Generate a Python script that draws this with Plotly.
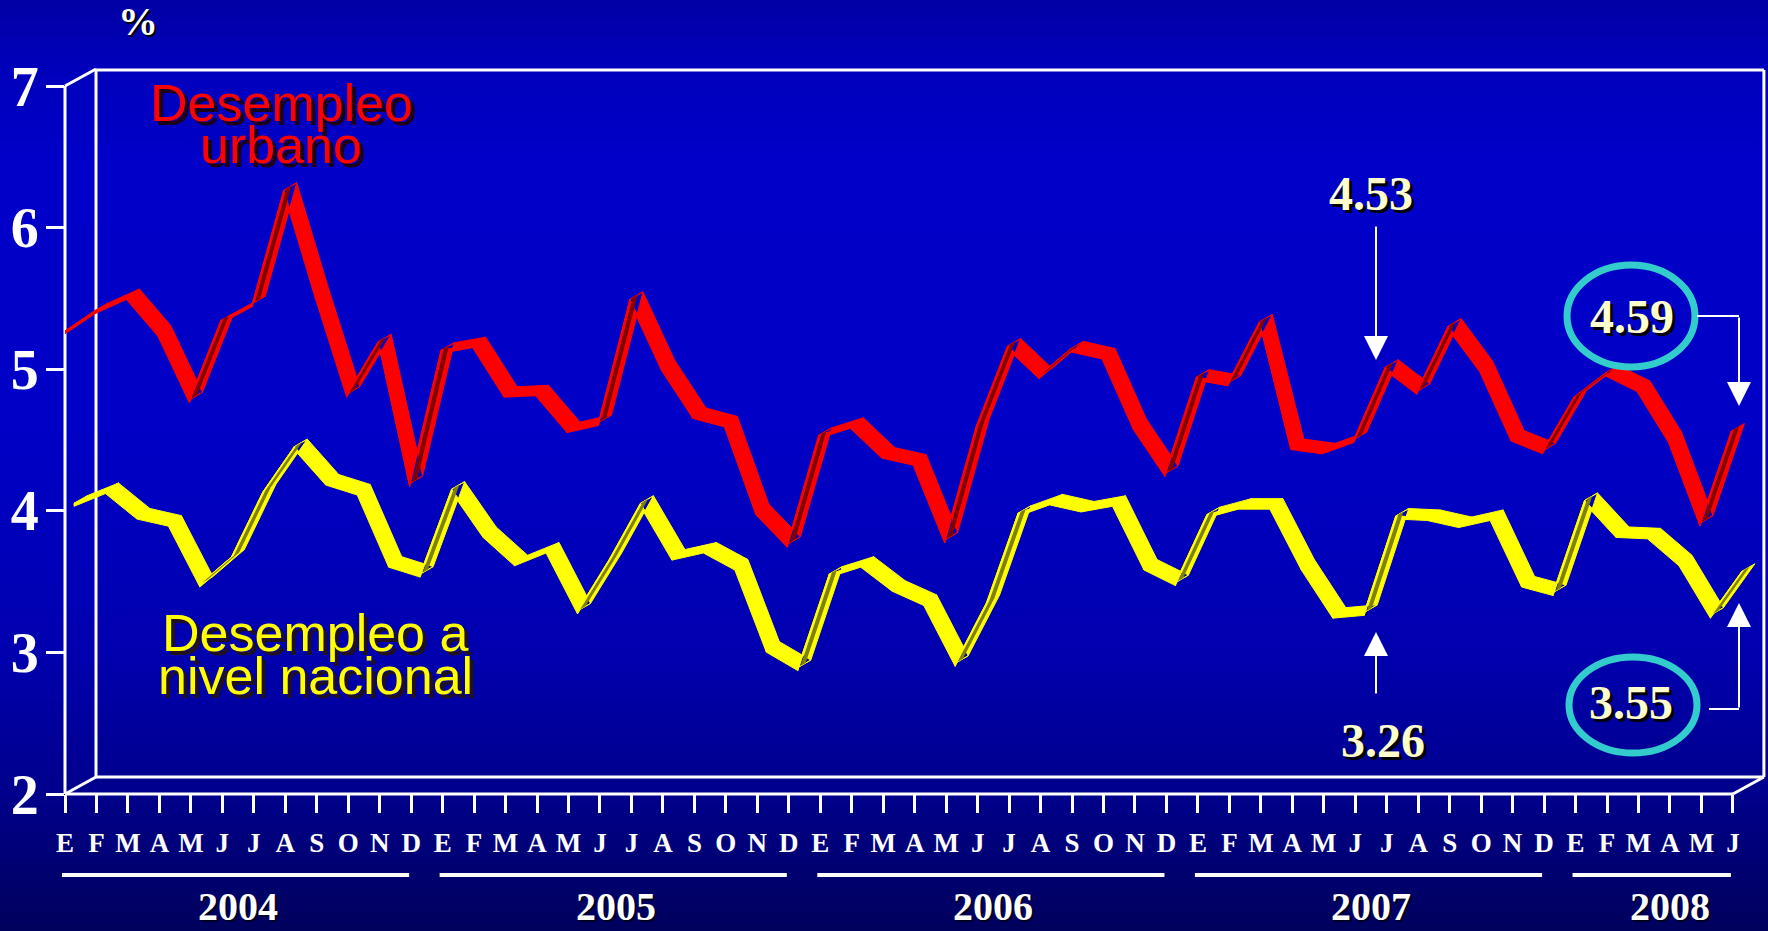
import plotly.graph_objects as go

# ---------------- data ----------------
months = ["E", "F", "M", "A", "M", "J", "J", "A", "S", "O", "N", "D"]
years = ["2004", "2005", "2006", "2007", "2008"]
months_per_year = [12, 12, 12, 12, 6]

urbano = [5.29, 5.44, 5.54, 5.28, 4.81, 5.37, 5.49, 6.29, 5.55, 4.85, 5.22, 4.22,
          5.16, 5.20, 4.85, 4.86, 4.60, 4.65, 5.52, 5.04, 4.70, 4.64, 4.02, 3.79,
          4.56, 4.63, 4.42, 4.37, 3.82, 4.62, 5.19, 4.98, 5.17, 5.12, 4.62, 4.29,
          4.97, 4.93, 5.36, 4.48, 4.45, 4.53, 5.04, 4.87, 5.33, 5.03, 4.54, 4.45,
          4.83, 5.00, 4.89, 4.53, 3.94, 4.59]
nacional = [4.03, 4.12, 3.94, 3.89, 3.46, 3.65, 4.11, 4.43, 4.18, 4.11, 3.60, 3.53,
            4.13, 3.81, 3.61, 3.70, 3.27, 3.63, 4.03, 3.65, 3.70, 3.58, 3.00, 2.87,
            3.53, 3.60, 3.43, 3.33, 2.90, 3.33, 3.96, 4.04, 3.99, 4.03, 3.58, 3.47,
            3.95, 4.01, 4.01, 3.58, 3.24, 3.26, 3.94, 3.93, 3.88, 3.93, 3.46, 3.40,
            4.05, 3.81, 3.80, 3.61, 3.24, 3.55]
y_ticks = [2, 3, 4, 5, 6, 7]

# ---------------- geometry (pixels) ----------------
W, H = 1768, 931
L, R, T, B = 65, 1765, 70, 794          # plot area
STEP = 31.47                            # px per month
PXV = 141.6                             # px per percentage point
DEPTH = (31, -17)                       # 3D depth of the frame
n = len(urbano)
idx = list(range(n))
labels = [m for k in months_per_year for m in months[:k]]


def pX(p):
    return (p - L) / (R - L)


def pY(p):
    return (B - p) / (B - T)


def ix(i):
    return L + i * STEP


def vy(v):
    return B - (v - 2) * PXV


SERIF = "Times New Roman, Liberation Serif, serif"
SANS = "Arial, Liberation Sans, sans-serif"

fig = go.Figure()


def ribbon(vals, off, col, dark):
    ox, oy = off
    dpx, dpy = 13.0, -7.5
    h = 3.0
    ddx, ddv = dpx / STEP, -dpy / PXV
    cx = [i + ox / STEP for i in idx]
    cv = [v - oy / PXV for v in vals]
    fx = [c - ddx / 2 for c in cx]
    fv = [c - ddv / 2 for c in cv]
    bx = [f + ddx for f in fx]
    bv = [f + ddv for f in fv]
    tx, ty, sx_, sy_, dx_, dy_ = [], [], [], [], [], []
    for i in range(n - 1):
        tx += [fx[i], fx[i + 1], bx[i + 1], bx[i], fx[i], None]
        ty += [fv[i], fv[i + 1], bv[i + 1], bv[i], fv[i], None]
        sx_ += [fx[i], fx[i + 1], fx[i + 1], fx[i], fx[i], None]
        sy_ += [fv[i], fv[i + 1], fv[i + 1] - h / PXV, fv[i] - h / PXV, fv[i], None]
        rise = -(vals[i + 1] - vals[i]) * PXV
        cross = STEP * dpy - rise * dpx
        if cross > 0:
            a, b = 0.2, 0.6
            dx_ += [fx[i] + a * ddx, fx[i + 1] + a * ddx, fx[i + 1] + b * ddx, fx[i] + b * ddx,
                    fx[i] + a * ddx, None]
            dy_ += [fv[i] + a * ddv, fv[i + 1] + a * ddv, fv[i + 1] + b * ddv, fv[i] + b * ddv,
                    fv[i] + a * ddv, None]
    common = dict(mode="lines", hoverinfo="skip", showlegend=False, fill="toself")
    fig.add_trace(go.Scatter(x=sx_, y=sy_, fillcolor=col, line=dict(color=col, width=1), **common))
    fig.add_trace(go.Scatter(x=tx, y=ty, fillcolor=col, line=dict(color=col, width=1), **common))
    if dx_:
        fig.add_trace(go.Scatter(x=dx_, y=dy_, fillcolor=dark, line=dict(color=dark, width=0), **common))


ribbon(nacional, (15.5, -7), "#FFFF00", "#7F7F00")
ribbon(urbano, (5, 0), "#FF0000", "#800000")

shapes = []
# background gradient
stops = [(0, 165), (70, 188), (160, 200), (430, 198), (650, 175), (794, 140), (931, 92)]


def blue_at(y):
    for (y0, c0), (y1, c1) in zip(stops[:-1], stops[1:]):
        if y0 <= y <= y1:
            return c0 + (c1 - c0) * (y - y0) / (y1 - y0)
    return stops[-1][1]


band = 7
for y0 in range(0, H, band):
    c = int(round(blue_at(y0 + band / 2)))
    shapes.append(dict(type="rect", xref="paper", yref="paper", layer="below",
                       x0=pX(0), x1=pX(W), y0=pY(y0), y1=pY(min(H, y0 + band) + 0.5),
                       fillcolor=f"rgb(0,0,{c})", line=dict(width=0)))

# 3D frame
wl = dict(color="white", width=3)
back_l, back_t = L + DEPTH[0], T
back_r, back_b = ix(n - 1) + DEPTH[0], B + DEPTH[1]
frame = [
    (L, B, L, vy(7)),
    (L, vy(7), back_l, vy(7) + DEPTH[1]),
    (L, B, back_l, back_b),
    (L, B, ix(n - 1), B),
    (ix(n - 1), B, back_r, back_b),
    (back_l, back_t, back_r, back_t),
    (back_l, back_t, back_l, back_b),
    (back_r, back_t, back_r, back_b),
    (back_l, back_b, back_r, back_b),
]
for x0, y0, x1, y1 in frame:
    shapes.append(dict(type="line", xref="paper", yref="paper", layer="below",
                       x0=pX(x0), y0=pY(y0), x1=pX(x1), y1=pY(y1), line=wl))

# year underlines
start = 0
year_centers = []
for yname, k in zip(years, months_per_year):
    first, last = start, start + k - 1
    shapes.append(dict(type="line", xref="paper", yref="paper",
                       x0=pX(ix(first) - 3), x1=pX(ix(last) - 2), y0=pY(875), y1=pY(875),
                       line=dict(color="white", width=4)))
    mid = (first + last) / 2 + (0.5 if k < 12 else 0)
    year_centers.append(ix(mid))
    start += k

# callout ellipses and connectors
cyan = "#33CCCC"
shapes.append(dict(type="circle", xref="paper", yref="paper", x0=pX(1567), x1=pX(1695),
                   y0=pY(367), y1=pY(265), line=dict(color=cyan, width=7)))
shapes.append(dict(type="circle", xref="paper", yref="paper", x0=pX(1569), x1=pX(1697),
                   y0=pY(753), y1=pY(657), line=dict(color=cyan, width=7)))
shapes.append(dict(type="line", xref="paper", yref="paper", x0=pX(1697), x1=pX(1739),
                   y0=pY(316), y1=pY(316), line=dict(color="white", width=2)))
shapes.append(dict(type="line", xref="paper", yref="paper", x0=pX(1709), x1=pX(1739),
                   y0=pY(709), y1=pY(709), line=dict(color="white", width=2)))

ann = []


def text(x, y, s, size, color, family, shadow=None, bold=True):
    f = dict(size=size, color=color, family=family)
    if bold:
        f["weight"] = "bold"
    if shadow:
        f["shadow"] = shadow
    ann.append(dict(x=pX(x), y=pY(y), xref="paper", yref="paper", text=s, showarrow=False,
                    xanchor="center", yanchor="middle", font=f))


def arrow(xt, yt, ax, ay):
    ann.append(dict(x=pX(xt), y=pY(yt), xref="paper", yref="paper", text="", showarrow=True,
                    ax=ax, ay=ay, axref="pixel", ayref="pixel", arrowhead=2, arrowsize=2.4,
                    arrowwidth=2, arrowcolor="white", standoff=0, startstandoff=0))


text(138, 22, "%", 40, "white", SERIF, "2px 2px 0px #000000")
red_sh = "4px 4px 0px #1a0018"
text(281, 103, "Desempleo", 52, "#FF0000", SANS, red_sh, bold=False)
text(281, 145, "urbano", 52, "#FF0000", SANS, red_sh, bold=False)
yel_sh = "4px 4px 0px #201020"
text(315, 633, "Desempleo a", 52, "#FFFF00", SANS, yel_sh, bold=False)
text(315, 676, "nivel nacional", 52, "#FFFF00", SANS, yel_sh, bold=False)

num_sh = "3px 3px 0px #000000"
text(1371, 193, "4.53", 48, "#FFFFCC", SERIF, num_sh)
text(1383, 740, "3.26", 48, "#FFFFCC", SERIF, num_sh)
text(1632, 316, "4.59", 48, "#FFFFCC", SERIF, num_sh)
text(1631, 702, "3.55", 48, "#FFFFCC", SERIF, num_sh)

arrow(1376, 360, 0, -135)
arrow(1376, 632, 0, 63)
arrow(1739, 406, 0, -90)
arrow(1739, 603, 0, 106)

for yname, xc in zip(years, year_centers):
    text(xc, 907, yname, 40, "white", SERIF, "2px 2px 0px #000020")

fig.update_layout(
    width=W, height=H, template="none",
    margin=dict(l=L, r=W - R, t=T, b=H - B, pad=0),
    paper_bgcolor="rgb(0,0,170)", plot_bgcolor="rgba(0,0,0,0)",
    showlegend=False, shapes=shapes, annotations=ann,
    xaxis=dict(range=[0, (R - L) / STEP], tickmode="array", tickvals=idx, ticktext=labels,
               ticks="outside", ticklen=18, tickwidth=3, tickcolor="white",
               showgrid=False, zeroline=False, showline=False, automargin=False,
               ticklabelstandoff=7,
               tickfont=dict(family=SERIF, size=27, color="white", weight="bold")),
    yaxis=dict(range=[2, 2 + (B - T) / PXV], tickmode="array", tickvals=y_ticks,
               ticktext=[str(v) for v in y_ticks],
               ticks="outside", ticklen=18, tickwidth=3, tickcolor="white",
               showgrid=False, zeroline=False, showline=False, automargin=False,
               ticklabelstandoff=-4,
               tickfont=dict(family=SERIF, size=56, color="white", weight="bold")),
)

fig.write_html("out.html", config={"displayModeBar": False},
               post_script="document.body.style.margin='0px';document.body.style.overflow='hidden';")
